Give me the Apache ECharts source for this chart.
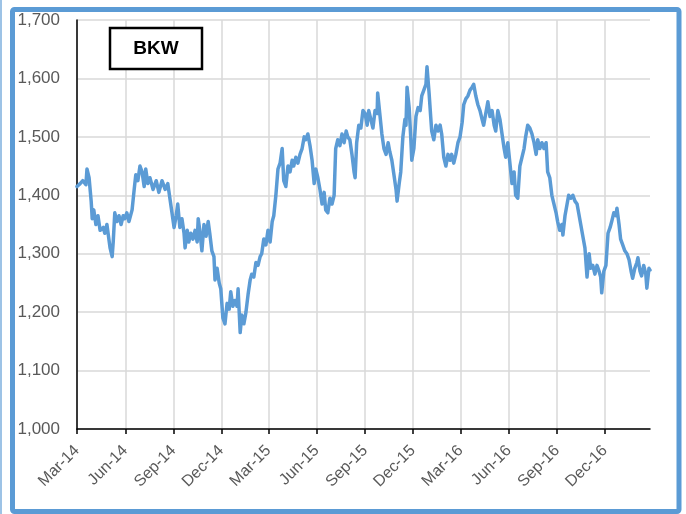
<!DOCTYPE html>
<html>
<head>
<meta charset="utf-8">
<script src="https://cdn.jsdelivr.net/npm/echarts@6/dist/echarts.min.js"></script>
<style>
  html, body { margin: 0; padding: 0; background: #ffffff; }
  #chart { width: 686px; height: 514px; }
</style>
</head>
<body>
<div id="chart"></div>
<script>
// BKW share price, Mar 2014 – Feb 2017
const seriesName = 'BKW';
const startDate = '2014-03-01';
const lastDay = 1092;

// days after startDate
const dayOffsets = [
  0, 6, 11, 17, 19, 23, 27, 29, 32, 36, 40, 44, 50, 53, 57, 63, 67, 69, 72, 76,
  80, 84, 88, 91, 95, 99, 105, 109, 112, 116, 120, 124, 128, 131, 135, 139, 145, 151, 156, 162,
  168, 173, 177, 181, 185, 189, 192, 196, 200, 204, 206, 210, 213, 217, 221, 225, 229, 231, 234, 238,
  242, 246, 250, 253, 257, 261, 263, 267, 271, 274, 278, 282, 286, 290, 293, 297, 301, 305, 307, 311,
  314, 318, 322, 326, 330, 333, 337, 341, 345, 349, 352, 356, 360, 364, 368, 372, 375, 379, 383, 387,
  391, 394, 398, 402, 406, 410, 413, 417, 421, 425, 429, 433, 436, 440, 444, 448, 452, 455, 459, 463,
  467, 471, 474, 478, 482, 486, 490, 493, 497, 501, 505, 509, 513, 516, 520, 524, 528, 530, 533, 537,
  541, 545, 549, 553, 556, 560, 564, 568, 572, 573, 577, 581, 585, 589, 593, 596, 600, 604, 608, 610,
  614, 617, 621, 625, 627, 629, 633, 636, 638, 642, 646, 650, 654, 657, 661, 665, 667, 671, 674, 676,
  680, 684, 688, 692, 695, 699, 703, 707, 711, 714, 718, 722, 726, 730, 734, 737, 741, 745, 749, 753,
  756, 760, 764, 768, 772, 775, 779, 783, 787, 791, 795, 798, 802, 806, 810, 814, 817, 821, 825, 829,
  833, 836, 840, 844, 848, 852, 855, 859, 863, 867, 871, 875, 878, 882, 886, 890, 894, 897, 901, 905,
  909, 913, 916, 920, 924, 926, 930, 934, 937, 941, 945, 949, 953, 956, 960, 964, 968, 972, 976, 979,
  983, 987, 991, 995, 998, 1000, 1004, 1008, 1012, 1016, 1019, 1023, 1027, 1029, 1033, 1036, 1040, 1044, 1048, 1052,
  1056, 1059, 1063, 1067, 1069, 1073, 1076, 1080, 1084, 1086, 1090, 1092
];

const closePrices = [
  1415, 1420, 1425, 1418, 1445, 1430, 1390, 1360, 1375, 1350, 1365, 1340, 1345, 1335, 1350, 1310, 1295, 1320, 1370, 1355,
  1365, 1350, 1365, 1360, 1370, 1355, 1375, 1410, 1435, 1425, 1450, 1440, 1415, 1445, 1420, 1430, 1410, 1425, 1405, 1425,
  1410, 1420, 1395, 1370, 1345, 1365, 1385, 1345, 1360, 1335, 1310, 1340, 1320, 1335, 1325, 1340, 1320, 1360, 1340, 1305,
  1350, 1330, 1355, 1335, 1305, 1295, 1255, 1275, 1250, 1240, 1190, 1180, 1215, 1205, 1235, 1210, 1220, 1210, 1240, 1165,
  1195, 1180, 1200, 1230, 1255, 1265, 1260, 1285, 1280, 1295, 1300, 1325, 1315, 1340, 1320, 1355, 1365, 1400, 1445, 1455,
  1480, 1425, 1415, 1450, 1440, 1460, 1450, 1465, 1455, 1470, 1480, 1500, 1495, 1505, 1485, 1460, 1420, 1445, 1430, 1410,
  1385, 1405, 1375, 1370, 1395, 1385, 1400, 1480, 1495, 1485, 1505, 1490, 1510, 1500, 1495, 1470, 1440, 1430, 1490, 1520,
  1515, 1545, 1540, 1520, 1545, 1530, 1515, 1545, 1540, 1575, 1540, 1505, 1480, 1470, 1490, 1475, 1460, 1435, 1410, 1390,
  1420, 1440, 1500, 1530, 1520, 1585, 1550, 1500, 1460, 1480, 1535, 1550, 1545, 1570, 1580, 1590, 1620, 1575, 1535, 1510,
  1495, 1520, 1510, 1520, 1505, 1465, 1450, 1470, 1460, 1470, 1455, 1470, 1490, 1500, 1525, 1555, 1565, 1570, 1580, 1585,
  1590, 1570, 1555, 1545, 1530, 1520, 1540, 1560, 1535, 1545, 1520, 1510, 1545, 1530, 1505, 1480, 1465, 1490, 1455, 1420,
  1440, 1400, 1395, 1450, 1465, 1480, 1500, 1520, 1515, 1505, 1490, 1470, 1495, 1480, 1490, 1480, 1490, 1440, 1430, 1400,
  1385, 1370, 1355, 1340, 1350, 1332, 1365, 1385, 1400, 1395, 1400, 1390, 1385, 1370, 1350, 1330, 1310, 1260, 1300, 1275,
  1280, 1265, 1280, 1270, 1260, 1233, 1270, 1280, 1335, 1345, 1355, 1370, 1365, 1378, 1350, 1325, 1315, 1305, 1300, 1290,
  1270, 1258, 1275, 1285, 1293, 1270, 1262, 1280, 1265, 1241, 1275, 1272
];

const tickDates = [
  '2014-03-01', '2014-06-01', '2014-09-01', '2014-12-01',
  '2015-03-01', '2015-06-01', '2015-09-01', '2015-12-01',
  '2016-03-01', '2016-06-01', '2016-09-01', '2016-12-01'
];
const tickLabels = [
  'Mar-14', 'Jun-14', 'Sep-14', 'Dec-14',
  'Mar-15', 'Jun-15', 'Sep-15', 'Dec-15',
  'Mar-16', 'Jun-16', 'Sep-16', 'Dec-16'
];

const yMin = 1000;
const yMax = 1700;
const yStep = 100;

// x positions are measured in days from startDate
const DAY = 86400000;
const toTime = s => Date.parse(s + 'T00:00:00Z');
const t0 = toTime(startDate);
const tickDays = tickDates.map(s => Math.round((toTime(s) - t0) / DAY));
const points = dayOffsets.map((d, i) => [d, closePrices[i]]);

const lineBlue = '#5B9BD5';
const gridGrey = '#D9D9D9';
const labelGrey = '#595959';

const chart = echarts.init(document.getElementById('chart'), null, { renderer: 'canvas' });
chart.setOption({
  animation: false,
  backgroundColor: '#ffffff',
  grid: { left: 77, right: 36, top: 20, bottom: 85, containLabel: false },
  xAxis: {
    type: 'value',
    min: 0,
    max: lastDay,
    axisLine: { show: true, lineStyle: { color: '#000000', width: 1.5 } },
    axisTick: {
      show: true, length: 5, inside: false,
      customValues: tickDays,
      lineStyle: { color: '#000000', width: 1.5 }
    },
    axisLabel: {
      customValues: tickDays,
      rotate: 45,
      margin: 19,
      color: labelGrey,
      fontFamily: 'Liberation Sans, Arial, sans-serif',
      fontSize: 16,
      formatter: v => {
        const i = tickDays.indexOf(Math.round(v));
        return i >= 0 ? tickLabels[i] : '';
      }
    },
    splitLine: { show: true, lineStyle: { color: gridGrey, width: 1.5 } }
  },
  yAxis: {
    type: 'value',
    min: yMin,
    max: yMax,
    interval: yStep,
    axisLine: { show: true, lineStyle: { color: '#000000', width: 1.5 } },
    axisTick: { show: false },
    axisLabel: {
      margin: 17,
      color: labelGrey,
      fontFamily: 'Liberation Sans, Arial, sans-serif',
      fontSize: 17,
      formatter: v => v.toLocaleString('en-US')
    },
    splitLine: { show: true, lineStyle: { color: gridGrey, width: 1.5 } }
  },
  series: [{
    name: seriesName,
    type: 'line',
    data: points,
    showSymbol: false,
    symbol: 'none',
    lineStyle: { color: lineBlue, width: 3.5, join: 'round', cap: 'round' },
    z: 3
  }],
  graphic: [
    {
      type: 'rect', z: 100, silent: true,
      shape: { x: 110, y: 28, width: 92, height: 41 },
      style: { fill: '#ffffff', stroke: '#000000', lineWidth: 2.5 }
    },
    {
      type: 'text', z: 101, silent: true,
      x: 156, y: 49,
      style: {
        text: seriesName, fill: '#000000',
        font: 'bold 19px "Liberation Sans", Arial, sans-serif',
        textAlign: 'center', textVerticalAlign: 'middle'
      }
    },
    {
      type: 'line', z: 100, silent: true,
      shape: { x1: 1, y1: 0, x2: 1, y2: 514 },
      style: { stroke: '#9DC3E6', lineWidth: 2 }
    },
    {
      type: 'rect', z: 100, silent: true,
      shape: { x: 12.5, y: 9.5, width: 666.5, height: 502, r: 2 },
      style: { fill: 'none', stroke: lineBlue, lineWidth: 5 }
    }
  ]
});
</script>
</body>
</html>
